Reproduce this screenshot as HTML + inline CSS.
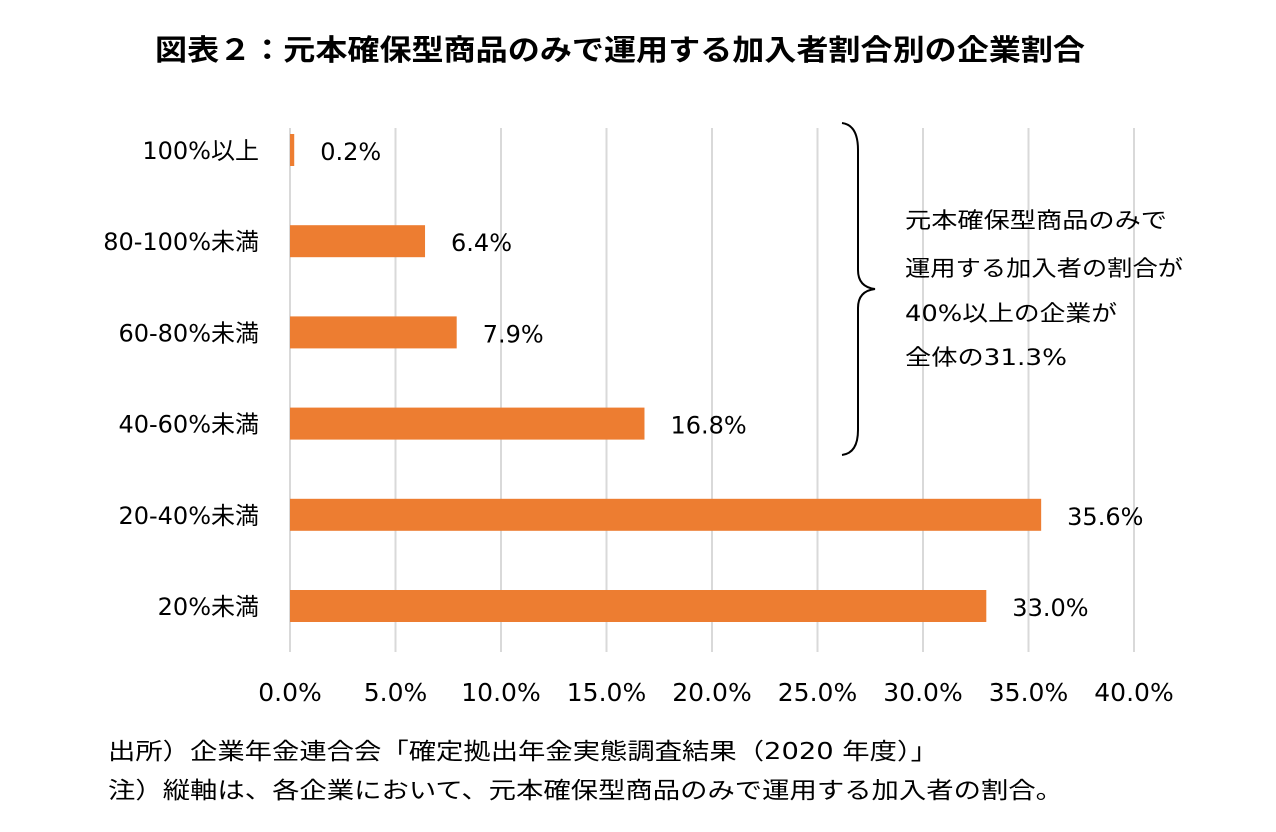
<!DOCTYPE html>
<html><head><meta charset="utf-8"><style>
body{margin:0;background:#fff;}
svg{display:block;font-family:"DejaVu Sans","Noto Sans CJK JP",sans-serif;}
</style></head><body>
<svg id="chart" width="1276" height="832" viewBox="0 0 1276 832">
<text x="155" y="60" font-size="29" font-weight="bold" fill="#000" textLength="930" lengthAdjust="spacingAndGlyphs">図表２：元本確保型商品のみで運用する加入者割合別の企業割合</text>
<g id="grid"></g>
<g id="bars"></g>
<g id="ylabels"></g>
<g id="xlabels"></g>
<path d="M842,123 Q858,125 858,150 L858,270 Q858,287 875,289 Q858,291 858,308 L858,430 Q858,453 842,455" fill="none" stroke="#000" stroke-width="2"/>
<g font-size="22" fill="#000">
<text x="905" y="228" textLength="262" lengthAdjust="spacingAndGlyphs">元本確保型商品のみで</text>
<text x="905" y="276" textLength="278" lengthAdjust="spacingAndGlyphs">運用する加入者の割合が</text>
<text x="905" y="321" textLength="212" lengthAdjust="spacingAndGlyphs">40%以上の企業が</text>
<text x="905" y="365" textLength="162" lengthAdjust="spacingAndGlyphs">全体の31.3%</text>
</g>
<text x="108" y="759" font-size="23" fill="#000" textLength="830" lengthAdjust="spacingAndGlyphs">出所）企業年金連合会「確定拠出年金実態調査結果（2020 年度）」</text>
<text x="108" y="798" font-size="23" fill="#000" textLength="955" lengthAdjust="spacingAndGlyphs">注）縦軸は、各企業において、元本確保型商品のみで運用する加入者の割合。</text>
</svg>
<script>
const categories=["100%以上","80-100%未満","60-80%未満","40-60%未満","20-40%未満","20%未満"];
const values=[0.2,6.4,7.9,16.8,35.6,33.0];
const valueLabels=["0.2%","6.4%","7.9%","16.8%","35.6%","33.0%"];
const ticks=[0,5,10,15,20,25,30,35,40];
const tickLabels=["0.0%","5.0%","10.0%","15.0%","20.0%","25.0%","30.0%","35.0%","40.0%"];
const NS="http://www.w3.org/2000/svg";
const x=v=>290+v*21.1;
const y=i=>150+i*91.2;
function mk(t,a,p){const e=document.createElementNS(NS,t);for(const k in a)e.setAttribute(k,a[k]);p.appendChild(e);return e;}
const g=document.getElementById('grid'),b=document.getElementById('bars'),yl=document.getElementById('ylabels'),xl=document.getElementById('xlabels');
ticks.forEach((t,i)=>{
 const l=mk('line',{x1:x(t),x2:x(t),y1:128,y2:652,stroke:'#d9d9d9','stroke-width':2},g);
 
 
 const tx=mk('text',{x:x(t),y:701,'text-anchor':'middle','font-size':25,fill:'#000'},xl);
 tx.textContent=tickLabels[i];
 
 
});
categories.forEach((c,i)=>{
 const r=mk('rect',{x:x(0),y:y(i)-16,width:Math.max(x(values[i])-x(0),2),height:32,fill:'#ed7d31'},b);
 
 
 const v=mk('text',{x:x(values[i])+26,y:y(i)+10,'font-size':24,fill:'#000'},b);
 v.textContent=valueLabels[i];
 
 
 const c2=mk('text',{x:259,y:y(i)+9,'text-anchor':'end','font-size':24,fill:'#000'},yl);
 c2.textContent=c;
 
 
});
</script>
</body></html>
